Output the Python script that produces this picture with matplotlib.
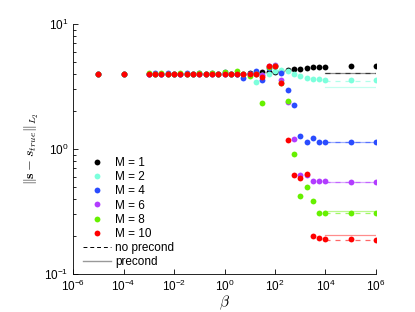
import numpy as np
import matplotlib
matplotlib.use('Agg')
import matplotlib.pyplot as plt
from matplotlib.lines import Line2D

plt.rcParams['font.family'] = ['Liberation Sans', 'DejaVu Sans']
plt.rcParams['mathtext.fontset'] = 'cm'

# beta values: 1e-5, 1e-4, then quarter decades from 1e-3 to 1e4, then 1e5, 1e6
beta = [1e-5, 1e-4,
        1e-3, 10**-2.75, 10**-2.5, 10**-2.25, 1e-2, 10**-1.75, 10**-1.5, 10**-1.25,
        1e-1, 10**-0.75, 10**-0.5, 10**-0.25, 1e0, 10**0.25, 10**0.5, 10**0.75,
        1e1, 10**1.25, 10**1.5, 10**1.75, 1e2, 10**2.25, 10**2.5, 10**2.75,
        1e3, 10**3.25, 10**3.5, 10**3.75, 1e4, 1e5, 1e6]

M_labels = ['M = 1', 'M = 2', 'M = 4', 'M = 6', 'M = 8', 'M = 10']
colors = ['#000000', '#7cffdc', '#2a4cff', '#b23cff', '#66f000', '#ff0000']

err_M1 = [4.0, 4.0, 4.0, 4.0, 4.0, 4.0, 4.0, 4.0, 4.0, 4.0,
          4.0, 4.0, 4.0, 4.0, 4.0, 4.0, 4.0, 4.0, 4.02, 4.05, 4.11, 4.13,
          4.15, 4.2, 4.31, 4.33, 4.38, 4.43, 4.49, 4.49, 4.52, 4.59, 4.59]
err_M2 = [4.0, 4.0, 4.0, 4.0, 4.0, 4.0, 4.0, 4.0, 4.0, 4.0,
          4.0, 4.0, 4.0, 4.0, 4.0, 4.0, 4.0, 4.0, 4.0, 3.43, 3.9, 4.0,
          4.2, 4.31, 4.2, 3.98, 3.82, 3.68, 3.63, 3.6, 3.58, 3.58, 3.58]
err_M4 = [4.0, 4.0, 4.0, 4.02, 4.0, 4.02, 4.0, 4.0, 4.02, 4.0,
          4.02, 4.0, 4.02, 4.0, 4.15, 4.0, 4.0, 3.7, 4.0, 4.23, 3.58, 4.45,
          4.6, 4.08, 2.97, 2.26, 1.28, 1.14, 1.23, 1.13, 1.13, 1.13, 1.13]
err_M6 = [3.97, 3.97, 3.97, 3.97, 3.95, 3.97, 3.95, 3.97, 3.97, 3.95,
          3.97, 3.95, 3.97, 3.96, 3.98, 3.97, 4.0, 4.0, 4.0, 4.0, 3.9, 4.65,
          4.7, 3.58, 2.39, 1.2, 0.616, 0.616, 0.551, 0.551, 0.551, 0.547, 0.547]
err_M8 = [4.0, 4.0, 4.03, 4.0, 4.05, 4.0, 4.0, 4.05, 4.0, 4.0,
          4.05, 4.0, 4.05, 4.0, 4.1, 4.0, 4.21, 4.0, 3.86, 4.0, 2.35, 4.55,
          4.6, 3.4, 2.43, 0.907, 0.418, 0.494, 0.382, 0.306, 0.306, 0.306, 0.306]
err_M10 = [4.0, 4.0, 4.0, 4.0, 4.0, 4.0, 4.0, 4.0, 4.0, 4.0,
           4.0, 4.0, 4.0, 4.0, 4.0, 4.0, 4.0, 4.0, 4.0, 4.0, 3.75, 4.59,
           4.59, 3.37, 1.17, 0.616, 0.583, 0.634, 0.2, 0.193, 0.189, 0.189, 0.188]
errs = [err_M1, err_M2, err_M4, err_M6, err_M8, err_M10]

# reference levels over 1e4..1e6
line_beta = [1e4, 1e6]
noprecond = [4.06, 3.48, 1.13, 0.547, 0.306, 0.188]
precond = [4.06, 3.12, 1.13, 0.547, 0.321, 0.206]

fig = plt.figure(figsize=(4.15, 3.12), dpi=100)
ax = fig.add_axes([0.176, 0.122, 0.73, 0.801])

for c, n, p in zip(colors, noprecond, precond):
    ax.plot(line_beta, [p, p], '-', color=c, lw=0.9, alpha=0.45)
    ax.plot(line_beta, [n, n], '--', color=c, lw=0.9, alpha=0.6, dashes=(4, 4))

handles = []
for e, c, lab in zip(errs, colors, M_labels):
    h, = ax.plot(beta, e, 'o', color=c, ms=4.2, mec='none', label=lab)
    handles.append(h)

handles.append(Line2D([], [], color='k', ls='--', lw=0.7, dashes=(4, 3)))
handles.append(Line2D([], [], color='#999999', ls='-', lw=1.0))
labels = M_labels + ['no precond', 'precond']

ax.set_xscale('log')
ax.set_yscale('log')
ax.set_xlim(1e-6, 1e6)
ax.set_ylim(1e-1, 1e1)
ax.set_xticks([1e-6, 1e-4, 1e-2, 1e0, 1e2, 1e4, 1e6])
ax.xaxis.set_minor_locator(matplotlib.ticker.NullLocator())
ax.tick_params(which='both', direction='in', labelsize=8.5, width=0.6)
ax.tick_params(which='major', length=3.5)
ax.tick_params(which='minor', length=2)
ax.spines['top'].set_visible(False)
ax.spines['right'].set_visible(False)
for s in ['left', 'bottom']:
    ax.spines[s].set_linewidth(0.6)

ax.set_xlabel(r'$\beta$', fontsize=11, labelpad=0)
ax.set_ylabel(r'$\|\mathbf{s}-s_{true}\|_{L_2}$', fontsize=10, labelpad=2)

ax.legend(handles, labels, loc='lower left', bbox_to_anchor=(0.01, -0.005),
          frameon=False, fontsize=8.5, handlelength=2.4, handletextpad=0.3,
          labelspacing=0.18, borderaxespad=0.2)

fig.savefig('out.png', dpi=100)
